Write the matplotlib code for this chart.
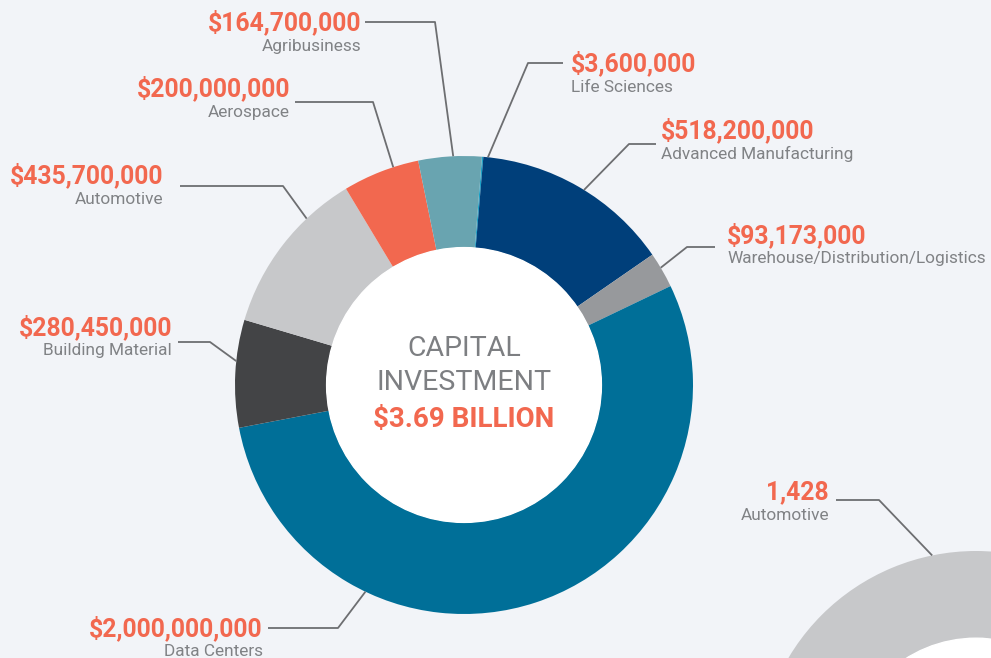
import numpy as np
import matplotlib
matplotlib.use('Agg')
import matplotlib.pyplot as plt
from matplotlib.patches import Circle
from matplotlib import font_manager

# capital investment by sector (USD)
sectors = ['Life Sciences', 'Advanced Manufacturing', 'Warehouse/Distribution/Logistics',
           'Data Centers', 'Building Material', 'Automotive', 'Aerospace', 'Agribusiness']
investment = [3600000, 518200000, 93173000, 2000000000, 280450000, 435700000, 200000000, 164700000]
colors = ['#17a2c8', '#003f7a', '#97999c', '#006f98', '#434446', '#c7c8ca', '#f2684f', '#69a4b0']
total_label = '$3.69 BILLION'

# jobs donut (only automotive visible)
job_sectors = ['Automotive']
jobs = [1428]
job_colors = ['#c7c8ca']

W, H = 991, 658
BG = '#f2f4f8'
CORAL = '#f2684f'
GREY = '#808285'
LINE = '#6d6e71'

names = {f.name for f in font_manager.fontManager.ttflist}
FONT = 'Liberation Sans Narrow' if 'Liberation Sans Narrow' in names else 'Roboto'

def Y(py):
    return H - py

fig = plt.figure(figsize=(W / 100, H / 100), dpi=100, facecolor=BG)
ax = fig.add_axes([0, 0, 1, 1])
ax.set_facecolor(BG)

# main donut
cx, cy, R = 464, 385, 229
wedges, _ = ax.pie(investment, colors=colors, startangle=85.5, counterclock=False,
                   radius=R, center=(cx, Y(cy)),
                   wedgeprops=dict(width=R * 0.4, linewidth=0))
ax.add_patch(Circle((cx, Y(cy)), R * 0.6, color='white', zorder=3))

# second (jobs) donut, cut off at the corner
jx, jy, JR = 976, 769, 218
ax.pie(jobs, colors=job_colors, radius=JR, center=(jx, Y(jy)),
       wedgeprops=dict(width=JR * 0.4, linewidth=0))
ax.add_patch(Circle((jx, Y(jy)), JR * 0.6, color='white', zorder=3))

def fmt(v):
    return '${:,}'.format(v)

# label layout: anchor angle on the ring, elbow, line end, text x, value y, side
layout = {
    'Agribusiness': (92.7, (435, 22), (365, 22), 361, 22, 'right'),
    'Aerospace': (108, (373, 102), (295, 102), 290, 88, 'right'),
    'Automotive': (133.4, (283, 186), (180, 186), 163, 175, 'right'),
    'Building Material': (174, (210, 342), (178, 342), 172, 327, 'right'),
    'Data Centers': (-115.5, (338, 628), (268, 628), 263, 628, 'right'),
    'Life Sciences': (84, (528, 63), (563, 63), 571, 63, 'left'),
    'Advanced Manufacturing': (58.4, (629, 144), (656, 144), 661, 130, 'left'),
    'Warehouse/Distribution/Logistics': (30.8, (687, 247), (715, 247), 727, 235, 'left'),
}

def draw_label(value, name, ang, elbow, end, tx, ty, ha, ccx, ccy, rr):
    a = np.deg2rad(ang)
    px = ccx + rr * np.cos(a)
    py = ccy - rr * np.sin(a)
    ax.plot([px, elbow[0], end[0]], [Y(py), Y(elbow[1]), Y(end[1])],
            color=LINE, lw=1.3, zorder=4, solid_capstyle='butt')
    ax.text(tx, Y(ty), value, ha=ha, va='center', color=CORAL,
            fontsize=17.8, fontweight='bold', family=FONT, zorder=5)
    ax.text(tx, Y(ty + 24), name, ha=ha, va='center', color=GREY,
            fontsize=12.4, family=FONT, zorder=5)

for name, val in zip(sectors, investment):
    ang, elbow, end, tx, ty, ha = layout[name]
    draw_label(fmt(val), name, ang, elbow, end, tx, ty, ha, cx, cy, R)

draw_label('{:,}'.format(jobs[0]), job_sectors[0], 101.6, (879, 500), (836, 500),
           829, 492, 'right', jx, jy, JR)

# centre text
ax.text(cx, Y(348), 'CAPITAL', ha='center', va='center', color='#7d7f82',
        fontsize=20.5, fontweight='normal', family=FONT, zorder=5)
ax.text(cx, Y(383), 'INVESTMENT', ha='center', va='center', color='#7d7f82',
        fontsize=20.5, fontweight='normal', family=FONT, zorder=5)
ax.text(cx, Y(419), total_label, ha='center', va='center', color=CORAL,
        fontsize=20, fontweight='bold', family=FONT, zorder=5)

ax.set_xlim(0, W)
ax.set_ylim(0, H)
ax.set_aspect('equal')
ax.axis('off')

fig.savefig('out.png', dpi=100, facecolor=BG)
